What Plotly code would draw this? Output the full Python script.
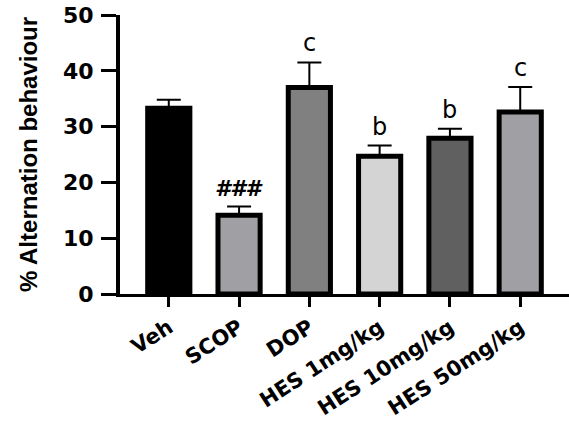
import plotly.graph_objects as go

categories = ["Veh", "SCOP", "DOP", "HES 1mg/kg", "HES 10mg/kg", "HES 50mg/kg"]
means = [33.3, 14.1, 37.0, 24.7, 27.9, 32.6]
errors = [1.5, 1.6, 4.5, 1.9, 1.7, 4.5]
labels = ["", "###", "c", "b", "b", "c"]
colors = ["#000000", "#a0a0a4", "#808080", "#d4d4d4", "#606060", "#a0a0a4"]

fig = go.Figure()
fig.add_trace(go.Bar(
    x=categories, y=means, width=0.6,
    marker=dict(color=colors, line=dict(color="black", width=5)),
    error_y=dict(type="data", array=errors, arrayminus=[0]*len(errors), symmetric=False,
                 color="black", thickness=2, width=12),
))

for c, m, e, t in zip(categories, means, errors, labels):
    if t:
        if t == "###":
            f = dict(family="DejaVu Sans", size=22, color="black", weight="bold", style="italic")
        else:
            f = dict(family="DejaVu Sans", size=24, color="black")
        fig.add_annotation(x=c, y=m + e, text=t, showarrow=False, yanchor="bottom", yshift=3, font=f)

fig.update_layout(
    width=569, height=423, margin=dict(l=120, r=0, t=15, b=129, autoexpand=False),
    plot_bgcolor="white", paper_bgcolor="white", showlegend=False,
)
fig.update_xaxes(
    range=[-0.694, 5.694], showline=True, linecolor="black", linewidth=3, automargin=False,
    ticks="outside", ticklen=10, tickwidth=3, tickcolor="black", tickangle=-33,
    tickfont=dict(family="DejaVu Sans", size=21, color="black", weight="bold"),
    showgrid=False, zeroline=False,
)
fig.update_yaxes(
    range=[0, 50], tickvals=[0, 10, 20, 30, 40, 50], showline=True, linecolor="black", linewidth=4,
    automargin=False, ticklabelstandoff=3,
    ticks="outside", ticklen=15, tickwidth=3, tickcolor="black",
    tickfont=dict(family="DejaVu Sans", size=22, color="black", weight="bold"),
    title=dict(text="% Alternation behaviour", standoff=20,
               font=dict(family="Liberation Sans", size=24, color="black", weight="bold")),
    showgrid=False, zeroline=False,
)
fig.write_html("out.html")
